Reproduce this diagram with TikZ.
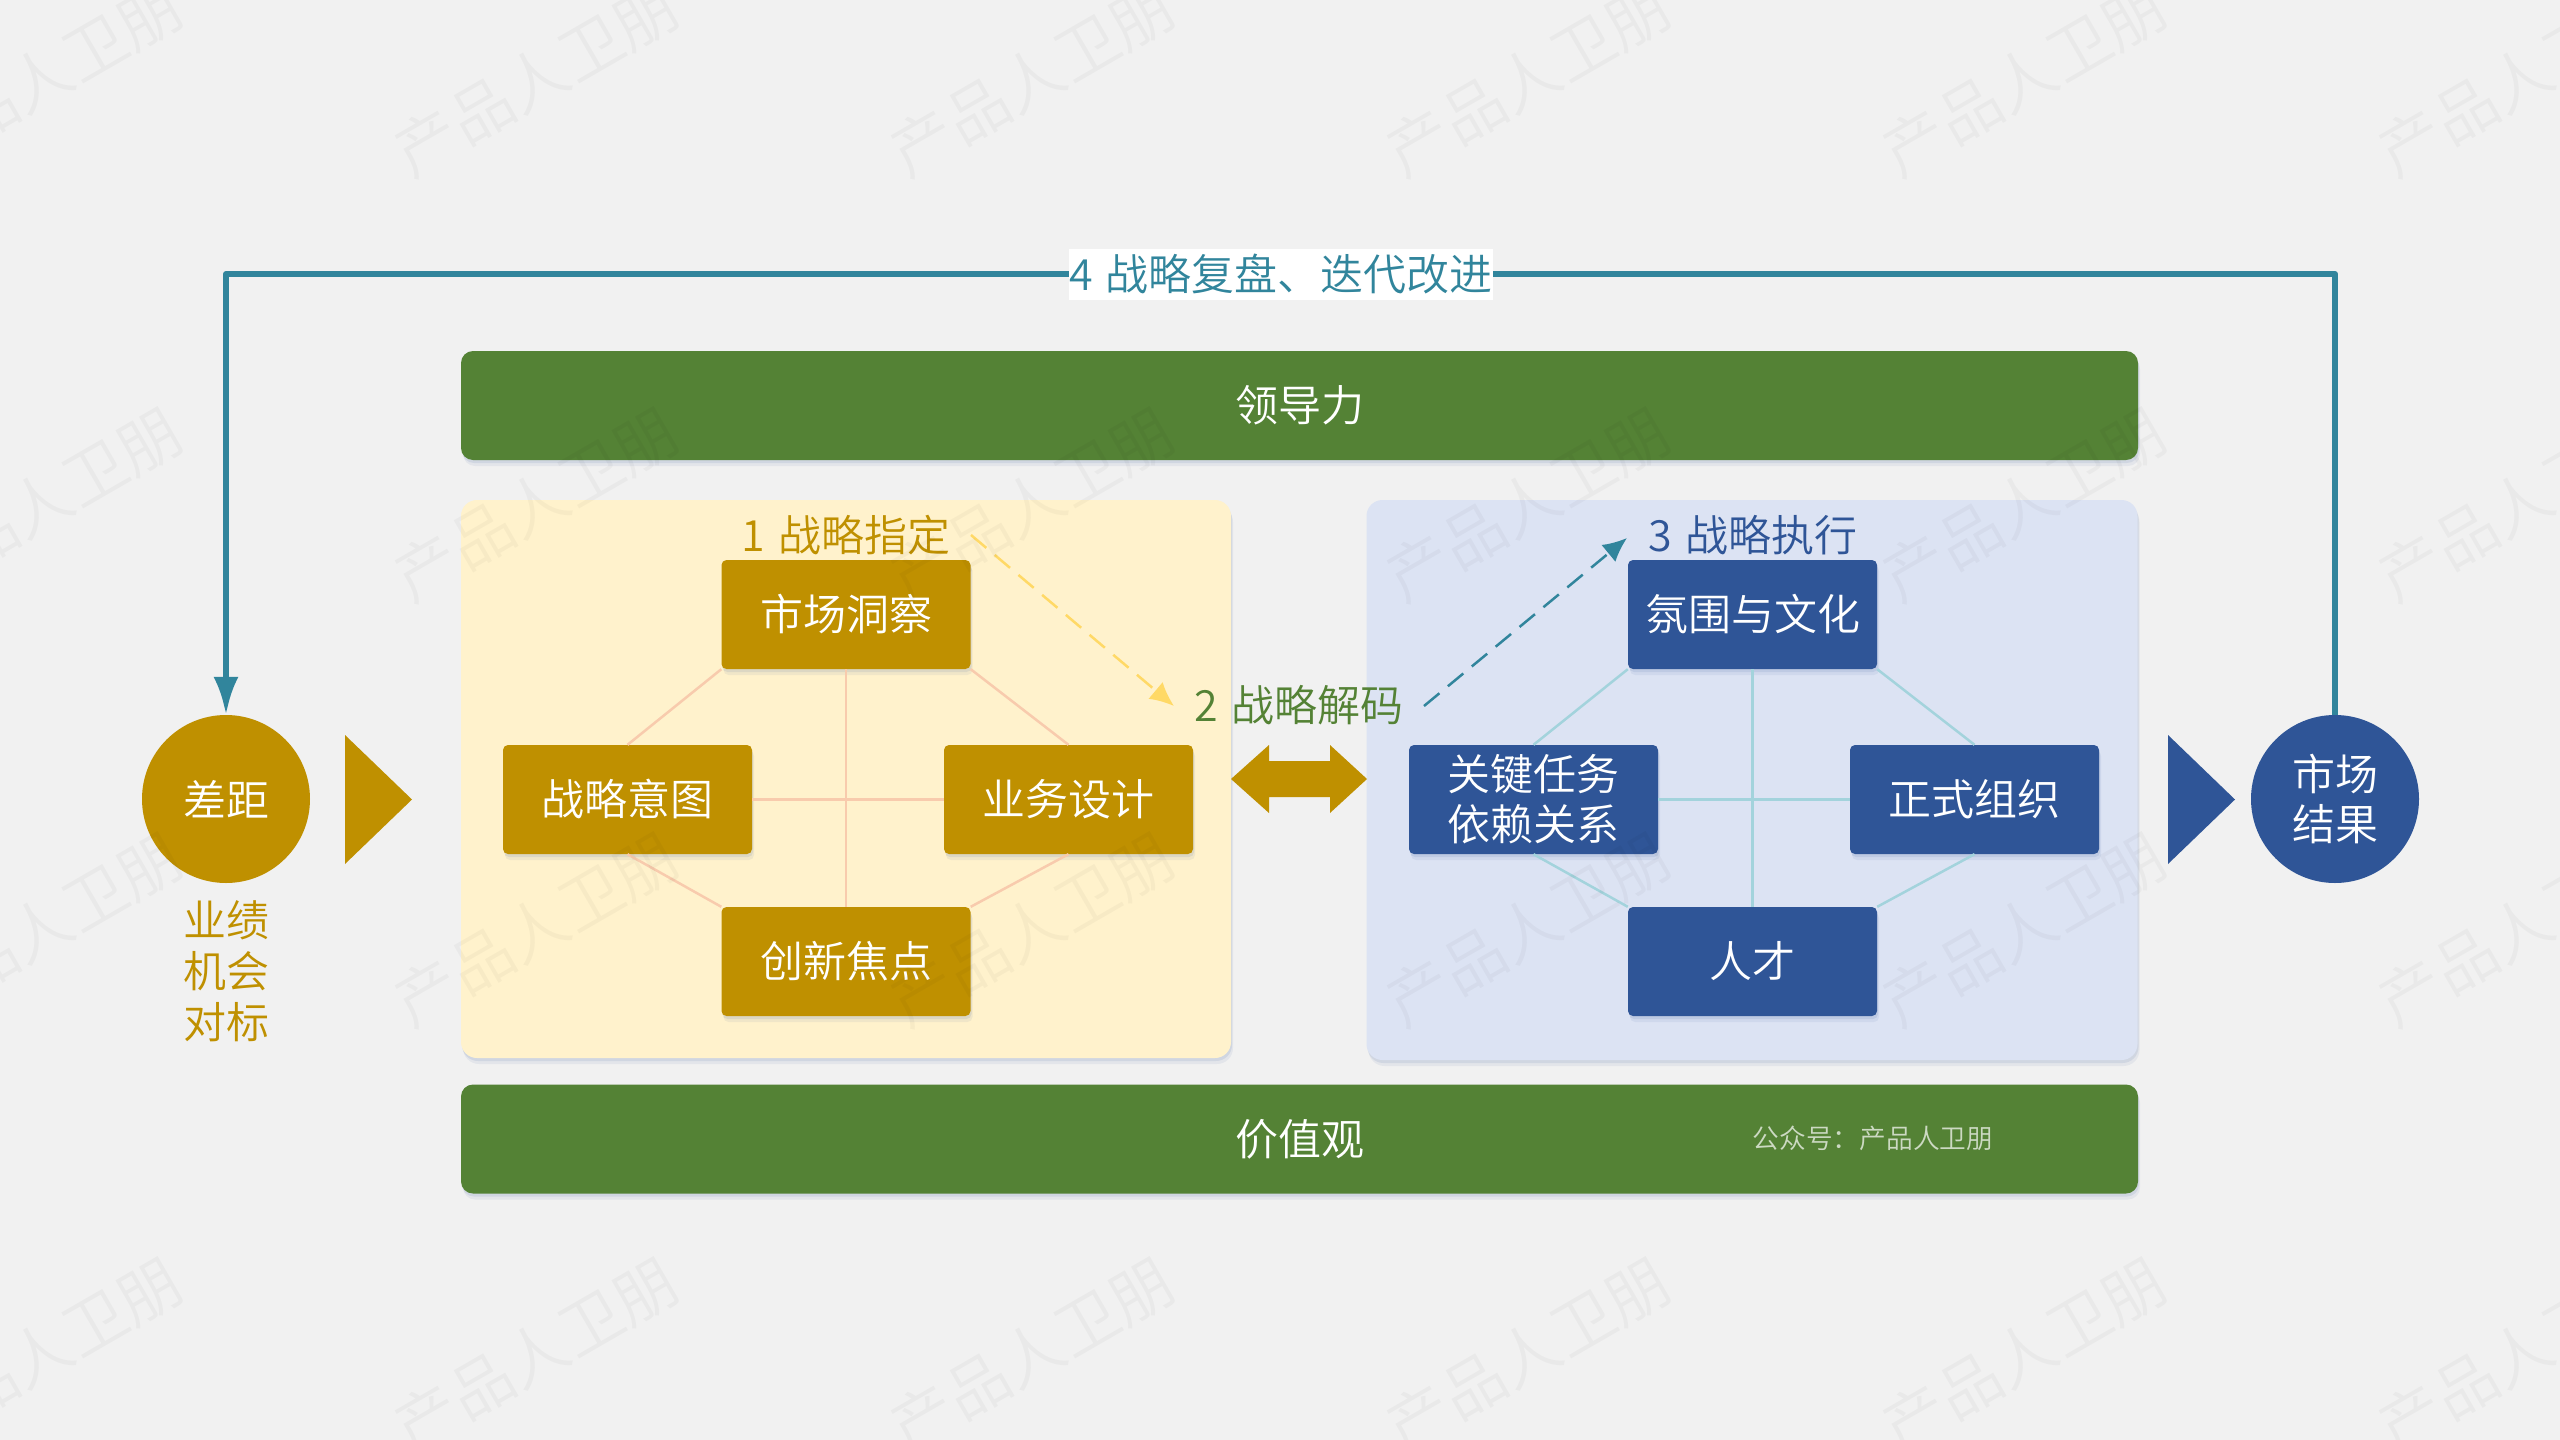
\documentclass[tikz,border=0pt]{standalone}
\usepackage{fontspec}
\setmainfont{Noto Sans CJK SC DemiLight}
\usetikzlibrary{arrows.meta,shadows}
\definecolor{bgc}{HTML}{F1F1F1}
\definecolor{goldc}{HTML}{BF9000}
\definecolor{greenc}{HTML}{548235}
\definecolor{bluec}{HTML}{2F5597}
\definecolor{tealc}{HTML}{31859C}
\definecolor{panely}{HTML}{FFF2CC}
\definecolor{panelb}{HTML}{DCE3F3}
\definecolor{liney}{HTML}{F8CBAD}
\definecolor{lineb}{HTML}{A3D3DC}
\definecolor{dashy}{HTML}{FFD966}
\newcommand{\numgap}{\hspace{13pt}}
\tikzset{
  x=1pt,y=-1pt,
  softshadow/.style={
    drop shadow={shadow xshift=2pt,shadow yshift=-6pt,opacity=.07,fill=bluec},
    drop shadow={shadow xshift=1pt,shadow yshift=-3pt,opacity=.10,fill=bluec}},
  big/.style={font=\fontsize{43}{50}\selectfont},
  panelbox/.style={draw=none,rounded corners=16pt,inner sep=0pt,softshadow},
  barbox/.style={fill=greenc,rounded corners=12pt,minimum width=1677pt,minimum height=109pt,inner sep=0pt,text=white,big,softshadow},
  goldbox/.style={fill=goldc,rounded corners=5pt,minimum width=249pt,minimum height=109pt,inner sep=0pt,text=white,big,align=center,softshadow},
  bluebox/.style={goldbox,fill=bluec},
  roundnode/.style={circle,minimum size=168pt,inner sep=0pt,text=white,big,align=center},
  yline/.style={draw=liney,line width=2.5pt},
  bline/.style={draw=lineb,line width=2.5pt},
  dasharrow/.style={line width=2.5pt,dash pattern=on 20pt off 11pt,-{Latex[length=24pt,width=22pt]}},
  mark text/.style={font=\fontsize{63}{63}\selectfont,text=black,opacity=.03,text opacity=.03,rotate=30,inner sep=0pt},
}
\begin{document}
\begin{tikzpicture}
\useasboundingbox (0,0) rectangle (2560,1440);
\fill[bgc] (0,0) rectangle (2560,1440);
% panels
\node[panelbox,fill=panely,minimum width=770pt,minimum height=558pt] (panelA) at (846,779) {};
\node[panelbox,fill=panelb,minimum width=771pt,minimum height=560pt] (panelB) at (1752,780) {};
% bars
\node[barbox] (lead) at (1299.5,405.5) {领导力};
\node[barbox] (value) at (1299.5,1139) {价值观};
\node[text=white,opacity=.7,text opacity=.7,font=\fontsize{26.7}{30}\selectfont,inner sep=0pt] (gzh) at (1873,1138) {公众号：产品人卫朋};
% gold boxes
\node[goldbox] (a1) at (846,614.5) {市场洞察};
\node[goldbox] (a2) at (627.5,799.5) {战略意图};
\node[goldbox] (a3) at (1068.5,799.5) {业务设计};
\node[goldbox] (a4) at (846,961.5) {创新焦点};
\draw[yline] (a1.south west) -- (a2.north);
\draw[yline] (a1.south east) -- (a3.north);
\draw[yline] (a1.south) -- (a4.north);
\draw[yline] (a2.east) -- (a3.west);
\draw[yline] (a2.south) -- (a4.north west);
\draw[yline] (a3.south) -- (a4.north east);
% blue boxes
\node[bluebox] (b1) at (1752.5,614.5) {氛围与文化};
\node[bluebox] (b2) at (1533.5,799.5) {关键任务\\依赖关系};
\node[bluebox] (b3) at (1974.5,799.5) {正式组织};
\node[bluebox] (b4) at (1752.5,961.5) {人才};
\draw[bline] (b1.south west) -- (b2.north);
\draw[bline] (b1.south east) -- (b3.north);
\draw[bline] (b1.south) -- (b4.north);
\draw[bline] (b2.east) -- (b3.west);
\draw[bline] (b2.south) -- (b4.north west);
\draw[bline] (b3.south) -- (b4.north east);
% headings
\node[big,text=goldc,inner sep=0pt] (h1) at (846,535) {1\numgap 战略指定};
\node[big,text=greenc,inner sep=0pt] (h2) at (1299,705) {2\numgap 战略解码};
\node[big,text=bluec,inner sep=0pt] (h3) at (1753,535) {3\numgap 战略执行};
% dashed arrows
\coordinate (d1s) at (971,535);
\coordinate (d1e) at (1174,706);
\coordinate (d2s) at (1424,706);
\coordinate (d2e) at (1627,538);
\draw[dasharrow,dashy] (d1s) -- (d1e);
\draw[dasharrow,tealc] (d2s) -- (d2e);
% centre double arrow
\fill[goldc] (1231,779) -- (1269,745) -- (1269,761) -- (1330,761) -- (1330,745) -- (1367,779) -- (1330,813) -- (1330,797) -- (1269,797) -- (1269,813) -- cycle;
% circles and triangles
\node[roundnode,fill=goldc] (gap) at (226,799) {差距};
\node[roundnode,fill=bluec] (market) at (2335,799) {市场\\结果};
\fill[goldc] (345,735) -- (412,799.5) -- (345,864) -- cycle;
\fill[bluec] (2168,735) -- (2235,799.5) -- (2168,864) -- cycle;
\node[text=goldc,align=center,inner sep=0pt,font=\fontsize{43}{51}\selectfont] (gapnote) at (226,971) {业绩\\机会\\对标};
% feedback loop
\coordinate (loopy) at (1281,274);
\draw[tealc,line width=6pt,line join=round,-{Latex[length=38pt,width=25pt]}] (market.north) -- (market.north |- loopy) -- (gap.north |- loopy) -- (gap.north);
\node[fill=white,text=tealc,big,inner sep=0pt,minimum width=422pt,minimum height=51pt] (h4) at (loopy) {4\numgap 战略复盘、迭代改进};
% watermark
\foreach \r/\yy in {0/79,1/504,2/929,3/1354}{
  \foreach \c/\xx in {0/40,1/536,2/1032,3/1528,4/2024,5/2520}{
    \node[mark text] (wm\r\c) at (\xx,\yy) {产品人卫朋};
  }
}
\end{tikzpicture}
\end{document}
